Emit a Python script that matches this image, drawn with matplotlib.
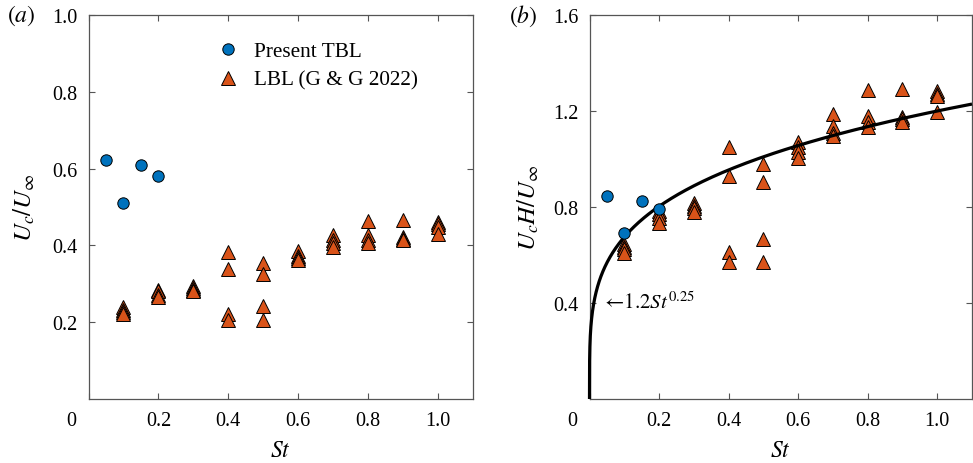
import numpy as np
import matplotlib
matplotlib.use("Agg")
from matplotlib import pyplot as plt
from matplotlib.transforms import ScaledTranslation

plt.rcParams['font.family'] = ['Liberation Serif', 'DejaVu Serif']
plt.rcParams['mathtext.fontset'] = 'stix'

#данные: настоящий ТПС (синие кружки)
st_tbl = [0.05, 0.10, 0.15, 0.20]
uc_tbl = [0.622, 0.511, 0.609, 0.581]
ucH_tbl = [0.844, 0.692, 0.825, 0.790]

#данные LBL (G & G 2022), по 4 случая на каждое St
st_lbl = [0.1]*4 + [0.2]*4 + [0.3]*4 + [0.4]*4 + [0.5]*4 + \
         [0.6]*4 + [0.7]*4 + [0.8]*4 + [0.9]*4 + [1.0]*4
uc_lbl = [0.240, 0.233, 0.226, 0.222,
          0.284, 0.280, 0.272, 0.265,
          0.294, 0.288, 0.283, 0.280,
          0.382, 0.338, 0.221, 0.207,
          0.355, 0.326, 0.242, 0.205,
          0.386, 0.372, 0.366, 0.362,
          0.428, 0.415, 0.405, 0.396,
          0.464, 0.426, 0.415, 0.405,
          0.465, 0.423, 0.417, 0.413,
          0.462, 0.455, 0.448, 0.430]
ucH_lbl = [0.645, 0.635, 0.625, 0.610,
           0.785, 0.770, 0.755, 0.735,
           0.815, 0.805, 0.795, 0.780,
           1.052, 0.931, 0.612, 0.570,
           0.979, 0.903, 0.666, 0.569,
           1.070, 1.048, 1.030, 1.005,
           1.189, 1.139, 1.110, 1.095,
           1.287, 1.180, 1.155, 1.134,
           1.290, 1.175, 1.165, 1.153,
           1.283, 1.270, 1.261, 1.195]

blue = '#0072BD'
orange = '#D95319'
spine_col = '#555555'
fs = 14.5

fig = plt.figure(figsize=(9.73, 4.64), dpi=100)
ax1 = fig.add_axes([88.5/973, 1-400/464, 384.5/973, 384/464])
ax2 = fig.add_axes([589.5/973, 1-400/464, 382.5/973, 384/464])

def style(ax, yticks, ylabels):
    ax.set_xlim(0, 1.1)
    ax.set_xticks([0, 0.2, 0.4, 0.6, 0.8, 1.0])
    ax.set_xticklabels(['0', '0.2', '0.4', '0.6', '0.8', '1.0'])
    ax.set_yticks(yticks)
    ax.set_yticklabels(ylabels)
    ax.tick_params(direction='in', top=True, right=True, length=4,
                   width=0.8, color=spine_col, labelsize=fs)
    ax.tick_params(axis='x', pad=8.5)
    ax.tick_params(axis='y', pad=8)
    for s in ax.spines.values():
        s.set_color(spine_col)
        s.set_linewidth(0.9)
    #сдвигаем "0" влево, как в оригинале
    lab = ax.get_xticklabels()[0]
    lab.set_transform(lab.get_transform() + ScaledTranslation(-0.17, 0, fig.dpi_scale_trans))
    ax.set_xlabel('$St$', fontsize=17, labelpad=7.5)

#(a)
ax1.plot(st_tbl, uc_tbl, 'o', color=blue, mec='k', mew=0.7, ms=8.2, label='Present TBL', zorder=4)
ax1.plot(st_lbl, uc_lbl, '^', color=orange, mec='k', mew=0.7, ms=10.5, label='LBL (G & G 2022)', zorder=3)
ax1.set_ylim(0, 1.0)
style(ax1, [0.2, 0.4, 0.6, 0.8, 1.0], ['0.2', '0.4', '0.6', '0.8', '1.0'])
ax1.set_ylabel(r'$U_c/U_\infty$', fontsize=18, labelpad=11)
ax1.legend(loc='upper left', bbox_to_anchor=(0.336, 0.9315), frameon=False, fontsize=15.3,
           handlelength=1.0, handletextpad=0.7, labelspacing=0.42, borderpad=0, borderaxespad=0)
fig.text(7/973, 1-16/464, '$(a)$', fontsize=17, va='center', ha='left')

#(b)
st_fit = np.concatenate([[0.0], np.geomspace(1e-7, 1.1, 800)])
ax2.plot(st_lbl, ucH_lbl, '^', color=orange, mec='k', mew=0.7, ms=10.5, zorder=2)
ax2.plot(st_fit, 1.2*st_fit**0.25, color='k', lw=2.3, zorder=3, clip_on=False, solid_capstyle='butt')
ax2.plot(st_tbl, ucH_tbl, 'o', color=blue, mec='k', mew=0.7, ms=8.2, zorder=4)
ax2.set_ylim(0, 1.6)
style(ax2, [0.4, 0.8, 1.2, 1.6], ['0.4', '0.8', '1.2', '1.6'])
ax2.set_ylabel(r'$U_cH/U_\infty$', fontsize=18, labelpad=9)
ax2.text(0.033, 0.405, r'$\leftarrow\!1.2St^{0.25}$', fontsize=15, va='center', ha='left')
fig.text(509/973, 1-16/464, '$(b)$', fontsize=17, va='center', ha='left')

fig.savefig('out.png', dpi=100)
